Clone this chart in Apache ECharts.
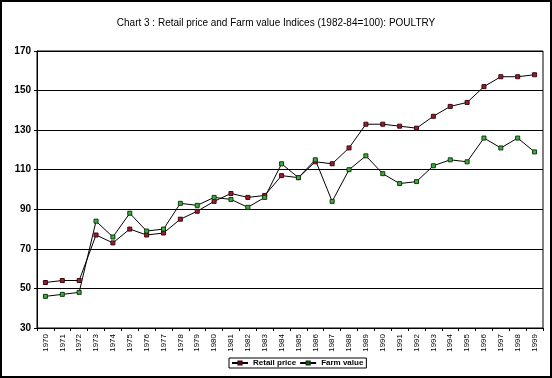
<!DOCTYPE html>
<html>
<head>
<meta charset="utf-8">
<script src="https://cdn.jsdelivr.net/npm/echarts@6/dist/echarts.min.js"></script>
<style>
html,body{margin:0;padding:0;background:#fff;}
#c{width:552px;height:378px;box-sizing:border-box;border:2px solid #000;}
</style>
</head>
<body>
<div id="c"></div>
<script>
const titleText = "Chart 3 : Retail price and Farm value Indices (1982-84=100): POULTRY";
const years = ["1970","1971","1972","1973","1974","1975","1976","1977","1978","1979","1980","1981","1982","1983","1984","1985","1986","1987","1988","1989","1990","1991","1992","1993","1994","1995","1996","1997","1998","1999"];
const retailPrice = [53,54,54,77,73,80,77,78,85,89,94,98,96,97,107,106,114,113,121,133,133,132,131,137,142,144,152,157,157,158];
const farmValue = [46,47,48,84,76,88,79,80,93,92,96,95,91,96,113,106,115,94,110,117,108,103,104,112,115,114,126,121,126,119];
const seriesNames = ["Retail price","Farm value"];

const chart = echarts.init(document.getElementById('c'), null, {renderer:'canvas'});
const font = 'Liberation Sans, Arial, sans-serif';
chart.setOption({
  animation:false,
  backgroundColor:'#fff',
  title:{text:titleText,left:'center',top:11,textStyle:{fontFamily:font,fontSize:10,fontWeight:'normal',color:'#000'}},
  grid:{left:35,right:7,top:49,bottom:48,show:true,borderColor:'#000',borderWidth:1},
  legend:{
    data:seriesNames,left:227,top:356,itemWidth:16,itemHeight:4,itemGap:3,
    padding:[1,3,1,2],borderColor:'#000',borderWidth:1,
    textStyle:{fontFamily:font,fontSize:8,fontWeight:'bold',color:'#000'}
  },
  xAxis:{
    type:'category',data:years,boundaryGap:true,
    axisLine:{lineStyle:{color:'#000'}},
    axisTick:{show:true,length:3,lineStyle:{color:'#000'}},
    axisLabel:{rotate:90,interval:0,fontFamily:font,fontSize:8,color:'#000',margin:6}
  },
  yAxis:{
    type:'value',min:30,max:170,interval:20,
    axisLine:{show:true,lineStyle:{color:'#000'}},
    axisTick:{show:true,length:3,lineStyle:{color:'#000'}},
    splitLine:{lineStyle:{color:'#000',width:1}},
    axisLabel:{fontFamily:font,fontSize:10,fontWeight:'bold',color:'#000',margin:6}
  },
  series:[
    {name:seriesNames[0],type:'line',data:retailPrice,symbol:'rect',symbolSize:4,
     lineStyle:{color:'#000',width:1},itemStyle:{color:'#9b1b30',borderColor:'#3a0a10',borderWidth:1}},
    {name:seriesNames[1],type:'line',data:farmValue,symbol:'rect',symbolSize:4,
     lineStyle:{color:'#000',width:1},itemStyle:{color:'#3fae3f',borderColor:'#103810',borderWidth:1}}
  ]
});
</script>
</body>
</html>
